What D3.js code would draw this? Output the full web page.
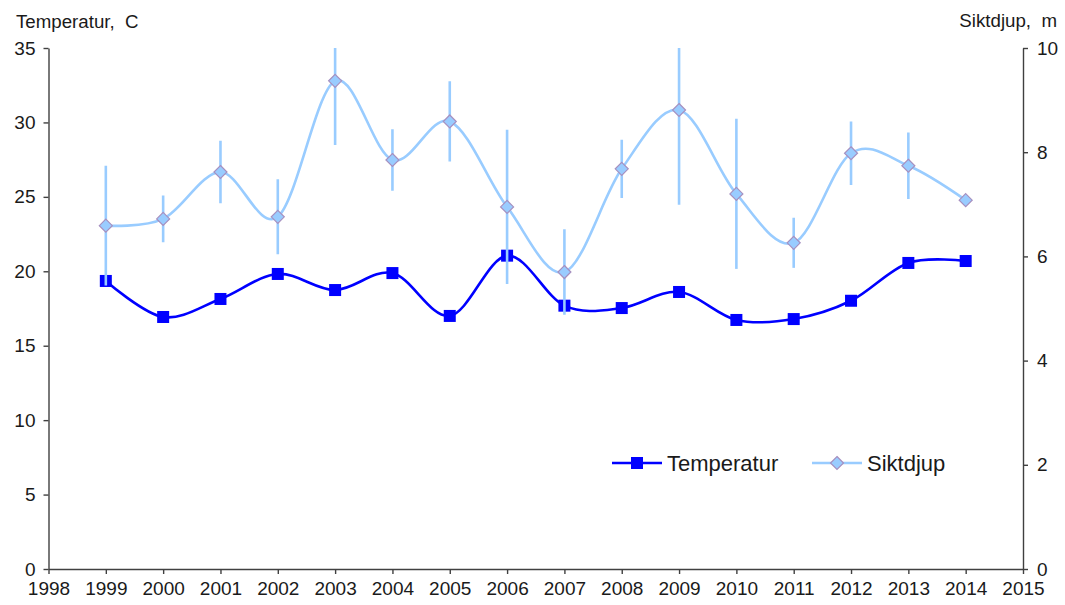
<!DOCTYPE html>
<html>
<head>
<meta charset="utf-8">
<script src="https://cdn.jsdelivr.net/npm/d3@7"></script>
<style>
  body { margin: 0; background: #fff; }
  svg text { font-family: "Liberation Sans", Arial, sans-serif; fill: #1a1a1a; }
  .axis path, .axis line { stroke: #404040; stroke-width: 1.4px; }
  .axis text { font-size: 19px; }
</style>
</head>
<body>
<div id="chart"></div>
<script>
// data
const years = [1999, 2000, 2001, 2002, 2003, 2004, 2005, 2006, 2007, 2008, 2009, 2010, 2011, 2012, 2013, 2014];
const temperatur = [19.35, 16.93, 18.14, 19.82, 18.74, 19.88, 17.0, 21.05, 17.69, 17.53, 18.61, 16.73, 16.79, 18.02, 20.56, 20.69];
const siktdjup = [6.59, 6.72, 7.62, 6.76, 9.37, 7.85, 8.59, 6.95, 5.70, 7.68, 8.81, 7.20, 6.26, 7.98, 7.74, 7.08];
const siktErr = [1.15, 0.45, 0.60, 0.72, 1.23, 0.59, 0.77, 1.48, 0.82, 0.56, 1.82, 1.44, 0.48, 0.61, 0.64, 0];
const xTicks = d3.range(1998, 2016);
const leftTicks = [0, 5, 10, 15, 20, 25, 30, 35];
const rightTicks = [0, 2, 4, 6, 8, 10];

const width = 1065, height = 605;
const margin = {top: 48, right: 42, bottom: 36, left: 48.5};

let svg = d3.select("#chart").append("svg").attr("width", width).attr("height", height);

let x = d3.scaleLinear().domain([1998, 2015]).range([margin.left, width - margin.right]);
let yL = d3.scaleLinear().domain([0, 35]).range([height - margin.bottom, margin.top]);
let yR = d3.scaleLinear().domain([0, 10]).range([height - margin.bottom, margin.top]);

svg.append("defs").append("clipPath").attr("id", "plotclip").append("rect")
    .attr("x", margin.left).attr("y", margin.top)
    .attr("width", x(2015) - x(1998)).attr("height", yL(0) - yL(35));

// axes
svg.append("g").attr("class", "axis").attr("transform", "translate(0," + yL(0) + ")")
    .call(d3.axisBottom(x).tickValues(xTicks).tickFormat(d3.format("d")).tickSize(5).tickSizeOuter(0).tickPadding(8));
svg.append("g").attr("class", "axis").attr("transform", "translate(" + margin.left + ",0)")
    .call(d3.axisLeft(yL).tickValues(leftTicks).tickSize(5).tickSizeOuter(0).tickPadding(8));
svg.append("g").attr("class", "axis").attr("transform", "translate(" + x(2015) + ",0)")
    .call(d3.axisRight(yR).tickValues(rightTicks).tickSize(5).tickSizeOuter(0).tickPadding(9));

svg.append("text").attr("x", 16).attr("y", 28).style("font-size", "18.7px").attr("xml:space", "preserve").text("Temperatur,  C");
svg.append("text").attr("x", 1057).attr("y", 27).style("font-size", "18.7px").style("text-anchor", "end")
    .attr("xml:space", "preserve").text("Siktdjup,  m");

let smooth = d3.curveCatmullRom.alpha(0);

// temperature series
let tempLine = d3.line().x(function(d, i) { return x(years[i]); }).y(function(d) { return yL(d); }).curve(smooth);
svg.append("path").datum(temperatur).attr("d", tempLine)
    .attr("fill", "none").attr("stroke", "#0000ff").attr("stroke-width", 2.6);
svg.append("g").selectAll("rect").data(temperatur).enter().append("rect")
    .attr("x", function(d, i) { return x(years[i]) - 6; })
    .attr("y", function(d) { return yL(d) - 6; })
    .attr("width", 12).attr("height", 12).attr("fill", "#0000ff");

// siktdjup series with error bars
let sikt = svg.append("g").attr("clip-path", "url(#plotclip)");
sikt.selectAll("line.err").data(siktdjup).enter().append("line").attr("class", "err")
    .filter(function(d, i) { return siktErr[i] > 0; })
    .attr("x1", function(d, i) { return x(years[i]); })
    .attr("x2", function(d, i) { return x(years[i]); })
    .attr("y1", function(d, i) { return yR(d + siktErr[i]); })
    .attr("y2", function(d, i) { return yR(d - siktErr[i]); })
    .attr("stroke", "#99ccff").attr("stroke-width", 2.6);

let siktLine = d3.line().x(function(d, i) { return x(years[i]); }).y(function(d) { return yR(d); }).curve(smooth);
sikt.append("path").datum(siktdjup).attr("d", siktLine)
    .attr("fill", "none").attr("stroke", "#99ccff").attr("stroke-width", 2.6);

let diamond = "M0,-6.5L6.5,0L0,6.5L-6.5,0Z";
svg.append("g").selectAll("path").data(siktdjup).enter().append("path")
    .attr("d", diamond)
    .attr("transform", function(d, i) { return "translate(" + x(years[i]) + "," + yR(d) + ")"; })
    .attr("fill", "#99ccff").attr("stroke", "#a690c0").attr("stroke-width", 1.2);

// legend
let legend = svg.append("g").attr("transform", "translate(612,463)");
legend.append("line").attr("x1", 0).attr("x2", 50).attr("stroke", "#0000ff").attr("stroke-width", 2.6);
legend.append("rect").attr("x", 19).attr("y", -6).attr("width", 12).attr("height", 12).attr("fill", "#0000ff");
legend.append("text").attr("x", 55).attr("y", 8).style("font-size", "22px").text("Temperatur");
legend.append("line").attr("x1", 200).attr("x2", 250).attr("stroke", "#99ccff").attr("stroke-width", 2.6);
legend.append("path").attr("d", diamond).attr("transform", "translate(225,0)")
    .attr("fill", "#99ccff").attr("stroke", "#a690c0").attr("stroke-width", 1.2);
legend.append("text").attr("x", 255).attr("y", 8).style("font-size", "22px").text("Siktdjup");
</script>
</body>
</html>
